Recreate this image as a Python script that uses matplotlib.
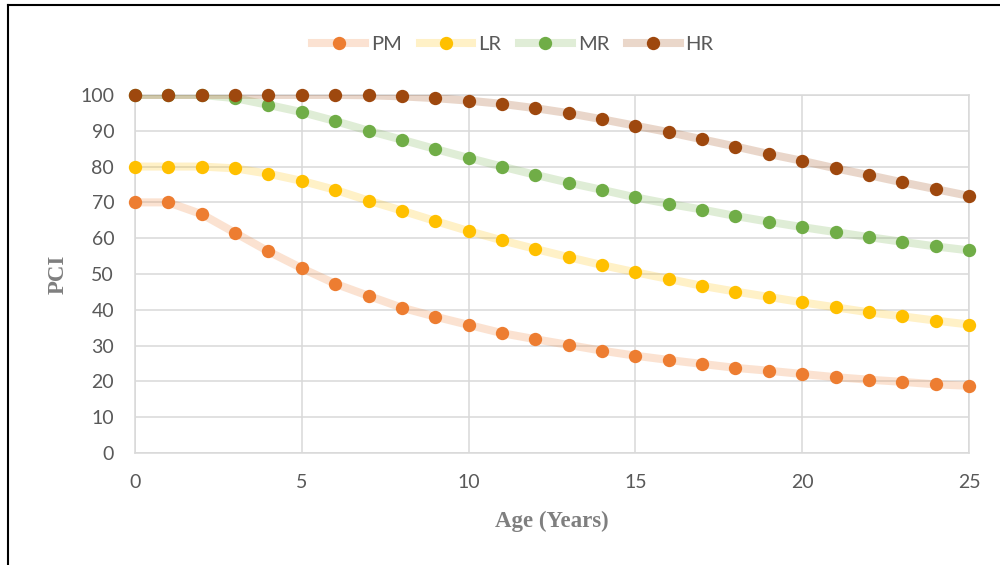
import matplotlib
matplotlib.use("Agg")
import matplotlib.pyplot as plt
import matplotlib.colors as mcolors
from matplotlib.lines import Line2D

age = list(range(26))
pm = [70.0, 70.0, 66.7, 61.5, 56.3, 51.6, 47.3, 43.9, 40.6, 38.1, 35.8, 33.5, 31.8, 30.2,
      28.6, 27.2, 26.0, 24.9, 23.8, 23.0, 22.1, 21.2, 20.5, 19.9, 19.2, 18.8]
lr = [80.0, 80.0, 80.0, 79.5, 78.0, 76.0, 73.5, 70.5, 67.7, 64.8, 62.0, 59.4, 57.0, 54.7,
      52.5, 50.5, 48.6, 46.7, 45.1, 43.6, 42.1, 40.7, 39.3, 38.2, 37.0, 35.9]
mr = [100.0, 100.0, 100.0, 99.1, 97.2, 95.2, 92.7, 90.0, 87.5, 84.9, 82.4, 80.0, 77.7, 75.5,
      73.5, 71.4, 69.6, 68.0, 66.2, 64.6, 63.1, 61.7, 60.3, 59.0, 57.7, 56.6]
hr = [100.0, 100.0, 100.0, 100.0, 100.0, 100.0, 100.0, 99.9, 99.6, 99.1, 98.4, 97.5, 96.3, 94.9,
      93.2, 91.4, 89.6, 87.6, 85.6, 83.5, 81.6, 79.5, 77.6, 75.6, 73.7, 71.8]

series_names = ["PM", "LR", "MR", "HR"]
series_vals = [pm, lr, mr, hr]
colors = ["#ED7D31", "#FFC000", "#70AD47", "#9E480E"]
x_ticks = [0, 5, 10, 15, 20, 25]
y_ticks = list(range(0, 101, 10))

fig = plt.figure(figsize=(10, 5.65), dpi=100)
ax = fig.add_axes([0.135, 0.198, 0.834, 0.634])

grid_c = "#D9D9D9"
for i, (name, vals, c) in enumerate(zip(series_names, series_vals, colors)):
    ax.plot(age, vals, color=c, alpha=0.22, lw=5.8, solid_capstyle="butt", zorder=3 + 2 * i)
    ax.plot(age, vals, ls="none", marker="o", ms=9.6, color=c, markeredgewidth=0,
            zorder=4 + 2 * i, clip_on=False)

ax.set_xlim(0, 25)
ax.set_ylim(0, 100)
ax.set_xticks(x_ticks)
ax.set_yticks(y_ticks)
ax.grid(True, color=grid_c, lw=1.1, zorder=0)
ax.set_axisbelow(True)
for s in ax.spines.values():
    s.set_color(grid_c)
    s.set_linewidth(1.1)
ax.tick_params(length=0, labelcolor="#595959", labelsize=14, pad=15)
for lab in ax.get_xticklabels() + ax.get_yticklabels():
    lab.set_family("Lato")

ax.set_xlabel("Age (Years)", family="Liberation Serif", fontweight="bold",
              fontsize=16.5, color="#7F7F7F", labelpad=14)
ax.set_ylabel("PCI", family="Liberation Serif", fontweight="bold",
              fontsize=16.5, color="#7F7F7F", labelpad=8)

leg_handles = []
for c in colors:
    r, g, b = mcolors.to_rgb(c)
    a = 0.22
    light = (1 - a + a * r, 1 - a + a * g, 1 - a + a * b)
    leg_handles.append(Line2D([0], [0], color=light, lw=5.8, marker="o", ms=9.6,
                              markeredgewidth=0, markerfacecolor=c))
leg = fig.legend(leg_handles, series_names, loc="center", bbox_to_anchor=(0.513, 0.922),
                 ncol=4, frameon=False, handlelength=2.6, handletextpad=0.3,
                 columnspacing=0.9, prop={"family": "Lato", "size": 14.5})
for t in leg.get_texts():
    t.set_color("#595959")

fig.add_artist(Line2D([0.0075, 0.0075], [0, 0.991], transform=fig.transFigure,
                      color="black", lw=1.5))
fig.add_artist(Line2D([0.0075, 1.0], [0.991, 0.991], transform=fig.transFigure,
                      color="black", lw=1.5))

fig.savefig("out.png", dpi=100, facecolor="white")
